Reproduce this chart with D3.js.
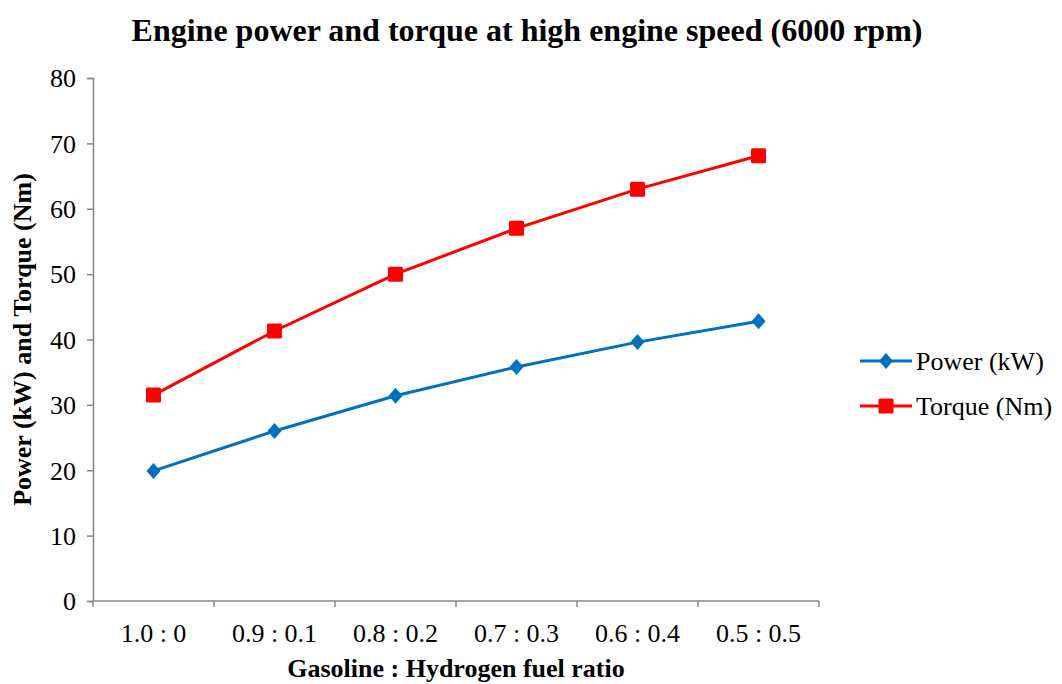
<!DOCTYPE html>
<html>
<head>
<meta charset="utf-8">
<script src="https://cdn.jsdelivr.net/npm/d3@7"></script>
<style>
  body { margin: 0; background: #fff; }
  text { font-family: "Liberation Serif", "Times New Roman", serif; }
</style>
</head>
<body>
<div id="chart"></div>
<script>
// data
var categories = ["1.0 : 0", "0.9 : 0.1", "0.8 : 0.2", "0.7 : 0.3", "0.6 : 0.4", "0.5 : 0.5"];
var powerKW = [19.9, 26.0, 31.4, 35.8, 39.6, 42.8];
var torqueNm = [31.5, 41.3, 50.0, 57.0, 63.0, 68.1];
var yTicks = [0, 10, 20, 30, 40, 50, 60, 70, 80];
var seriesNames = ["Power (kW)", "Torque (Nm)"];

var W = 1062, H = 684;
var margin = {top: 78, right: 243, bottom: 83, left: 93};
var width = W - margin.left - margin.right,
    height = H - margin.top - margin.bottom;

var svg = d3.select("#chart").append("svg")
  .attr("width", W).attr("height", H);

var g = svg.append("g")
  .attr("transform", "translate(" + margin.left + "," + margin.top + ")");

var x = d3.scaleBand().domain(categories).range([0, width]);
var y = d3.scaleLinear().domain([0, 80]).range([height, 0]);

var axisColor = "#868686";
var fs = 26;

// y axis
var yAxis = g.append("g")
  .call(d3.axisLeft(y).tickValues(yTicks).tickSize(6).tickPadding(11));
yAxis.select(".domain").attr("stroke", axisColor).attr("stroke-width", 1.5);
yAxis.selectAll(".tick line").attr("stroke", axisColor).attr("stroke-width", 1.5);
yAxis.selectAll(".tick text")
  .attr("font-size", fs).attr("fill", "#000").attr("dy", "0.34em")
  .style("font-family", "'Liberation Serif', serif");

// x axis: ticks on band boundaries
var xAxis = g.append("g").attr("transform", "translate(0," + height + ")");
xAxis.append("line")
  .attr("x1", 0).attr("x2", width)
  .attr("stroke", axisColor).attr("stroke-width", 1.5);
var bounds = categories.map(function(c) { return x(c); }).concat([width]);
xAxis.selectAll(".xt").data(bounds).enter().append("line")
  .attr("x1", function(d) { return d; }).attr("x2", function(d) { return d; })
  .attr("y1", 0).attr("y2", 6)
  .attr("stroke", axisColor).attr("stroke-width", 1.5);
xAxis.selectAll(".xl").data(categories).enter().append("text")
  .attr("x", function(d) { return x(d) + x.bandwidth() / 2; })
  .attr("y", 41)
  .attr("text-anchor", "middle")
  .attr("font-size", fs)
  .text(function(d) { return d; });

// lines
var cx = function(d, i) { return x(categories[i]) + x.bandwidth() / 2; };
var line = d3.line()
  .x(function(d, i) { return cx(d, i); })
  .y(function(d) { return y(d); });

var series = [
  {name: seriesNames[0], values: powerKW, color: "#0070C0", shape: "diamond"},
  {name: seriesNames[1], values: torqueNm, color: "#FF0000", shape: "square"}
];

function marker(sel, shape, color) {
  if (shape === "diamond") {
    sel.append("path")
      .attr("d", "M0,-8L7,0L0,8L-7,0Z")
      .attr("fill", color);
  } else {
    sel.append("rect")
      .attr("x", -7.5).attr("y", -7.5)
      .attr("width", 15).attr("height", 15)
      .attr("rx", 1.5)
      .attr("fill", color);
  }
}

series.forEach(function(s) {
  g.append("path")
    .datum(s.values)
    .attr("fill", "none")
    .attr("stroke", s.color)
    .attr("stroke-width", 3)
    .attr("d", line);
  g.selectAll(null).data(s.values).enter().append("g")
    .attr("transform", function(d, i) { return "translate(" + cx(d, i) + "," + y(d) + ")"; })
    .each(function() { marker(d3.select(this), s.shape, s.color); });
});

// title
svg.append("text")
  .attr("x", 527).attr("y", 41)
  .attr("text-anchor", "middle")
  .attr("font-size", 32).attr("font-weight", "bold")
  .text("Engine power and torque at high engine speed (6000 rpm)");

// axis titles
svg.append("text")
  .attr("transform", "translate(31," + (margin.top + height / 2) + ") rotate(-90)")
  .attr("text-anchor", "middle")
  .attr("font-size", fs).attr("font-weight", "bold")
  .text("Power (kW) and Torque (Nm)");

svg.append("text")
  .attr("x", margin.left + width / 2).attr("y", 677)
  .attr("text-anchor", "middle")
  .attr("font-size", fs).attr("font-weight", "bold")
  .text("Gasoline : Hydrogen fuel ratio");

// legend
var legend = svg.append("g").attr("transform", "translate(860,361)");
series.forEach(function(s, i) {
  var row = legend.append("g").attr("transform", "translate(0," + (i * 45) + ")");
  row.append("line")
    .attr("x1", 0).attr("x2", 52)
    .attr("stroke", s.color).attr("stroke-width", 3);
  marker(row.append("g").attr("transform", "translate(26,0)"), s.shape, s.color);
  row.append("text")
    .attr("x", 56).attr("y", 9)
    .attr("font-size", fs)
    .text(s.name);
});
</script>
</body>
</html>
